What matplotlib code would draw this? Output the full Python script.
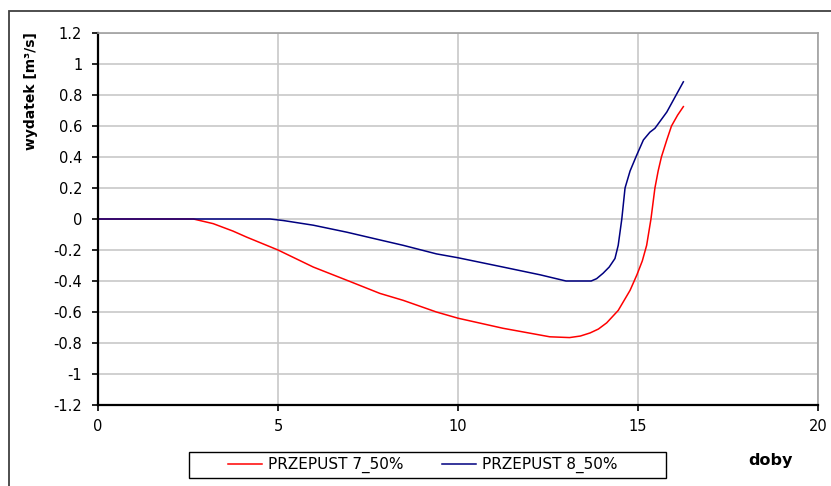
import matplotlib.pyplot as plt
from matplotlib.patches import Rectangle

plt.rcParams['font.family'] = ['DejaVu Sans']

# PRZEPUST 7_50%
x7 = [0, 2.65, 3.2, 3.75, 4.13, 5.0, 5.98, 6.91, 7.83, 8.48, 9.4, 10.0, 11.25,
      12.55, 13.1, 13.4, 13.67, 13.9, 14.13, 14.45, 14.78, 14.97, 15.12, 15.24,
      15.36, 15.47, 15.56, 15.65, 15.8, 15.93, 16.1, 16.26]
y7 = [0, 0, -0.03, -0.078, -0.117, -0.2, -0.31, -0.395, -0.48, -0.525, -0.6,
      -0.64, -0.705, -0.76, -0.765, -0.755, -0.735, -0.71, -0.67, -0.59, -0.46,
      -0.36, -0.27, -0.17, 0.0, 0.2, 0.31, 0.4, 0.51, 0.6, 0.67, 0.725]

# PRZEPUST 8_50%
x8 = [0, 4.78, 5.15, 5.98, 6.91, 7.83, 8.48, 9.4, 10.0, 11.25, 12.28, 13.0,
      13.7, 13.85, 14.03, 14.2, 14.36, 14.45, 14.55, 14.64, 14.78, 14.96,
      15.15, 15.33, 15.47, 15.8, 16.26]
y8 = [0, 0, -0.01, -0.04, -0.085, -0.135, -0.17, -0.225, -0.25, -0.31, -0.36,
      -0.40, -0.40, -0.385, -0.35, -0.31, -0.255, -0.17, 0.0, 0.2, 0.31, 0.41,
      0.51, 0.56, 0.585, 0.69, 0.885]

xticks = [0, 5, 10, 15, 20]
yticks = [-1.2, -1, -0.8, -0.6, -0.4, -0.2, 0, 0.2, 0.4, 0.6, 0.8, 1, 1.2]
ytick_labels = ['-1.2', '-1', '-0.8', '-0.6', '-0.4', '-0.2', '0', '0.2', '0.4',
                '0.6', '0.8', '1', '1.2']

fig = plt.figure(figsize=(8.31, 4.86), dpi=100)
ax = fig.add_axes([98/831, 1-405/486, 720/831, 372/486])

# outer chart frame
fig.patches.append(Rectangle((8.5/831, -0.1), 1.2, 1-11/486+0.1,
                             transform=fig.transFigure, fill=False,
                             edgecolor='#404040', lw=1.3))

ax.plot(x7, y7, color='#ff0000', lw=1.1, label='PRZEPUST 7_50%')
ax.plot(x8, y8, color='#000080', lw=1.1, label='PRZEPUST 8_50%')

ax.set_xlim(0, 20)
ax.set_ylim(-1.2, 1.2)
ax.set_xticks(xticks)
ax.set_yticks(yticks)
ax.set_yticklabels(ytick_labels)
ax.grid(True, color='#c8c8c8', lw=1.2)
ax.set_axisbelow(True)

for s in ['top', 'right']:
    ax.spines[s].set_color('#a0a0a0')
    ax.spines[s].set_linewidth(1.2)
for s in ['left', 'bottom']:
    ax.spines[s].set_color('black')
    ax.spines[s].set_linewidth(1.6)

ax.tick_params(axis='y', direction='out', length=4.3, width=1.2, pad=7, labelsize=10.5)
ax.tick_params(axis='x', direction='out', length=4.3, width=1.2, pad=6, labelsize=10.5)

fig.text(31/831, 1-91/486, 'wydatek [m³/s]', rotation=90, ha='center',
         va='center', fontsize=10, fontweight='bold')
fig.text(770/831, 1-460/486, 'doby', ha='center', va='center',
         fontsize=11.5, fontweight='bold')

# legend box drawn separately, entries placed inside
fig.patches.append(Rectangle((189/831, 1-478/486), 477/831, 26/486,
                             transform=fig.transFigure, fill=False,
                             edgecolor='black', lw=1.0))
leg = fig.legend(loc='center left', bbox_to_anchor=(228/831, 1-465/486), ncol=2,
                 frameon=False, fontsize=11, handlelength=2.2, handletextpad=0.4,
                 columnspacing=2.55, borderpad=0, borderaxespad=0)

fig.savefig('out.png', dpi=100)
